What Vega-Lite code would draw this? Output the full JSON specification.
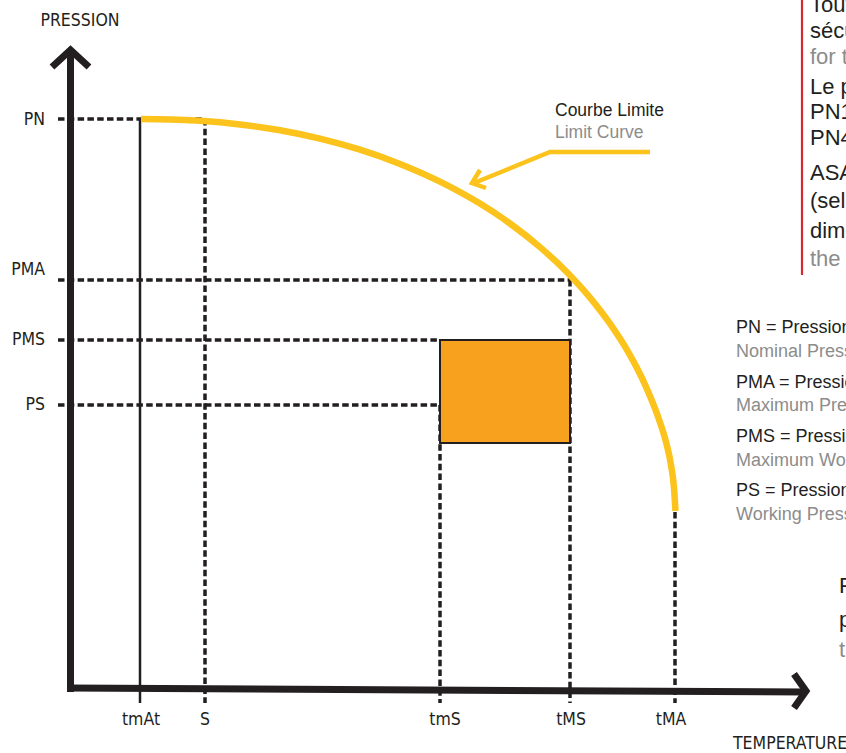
{
  "$schema": "https://vega.github.io/schema/vega-lite/v6.json",
  "width": 846,
  "height": 753,
  "autosize": "none",
  "padding": 0,
  "background": "white",
  "config": {"view": {"stroke": null}},
  "datasets": {
    "paths": [
      {"id": "pn", "kind": "dash", "o": 0, "x": 58, "y": 119},
      {"id": "pn", "kind": "dash", "o": 1, "x": 205, "y": 119},
      {"id": "s", "kind": "dash", "o": 0, "x": 205, "y": 119},
      {"id": "s", "kind": "dash", "o": 1, "x": 205, "y": 703},
      {"id": "pma", "kind": "dash", "o": 0, "x": 58, "y": 280},
      {"id": "pma", "kind": "dash", "o": 1, "x": 570, "y": 280},
      {"id": "tms", "kind": "dash", "o": 0, "x": 570, "y": 280},
      {"id": "tms", "kind": "dash", "o": 1, "x": 570, "y": 703},
      {"id": "pms", "kind": "dash", "o": 0, "x": 58, "y": 340},
      {"id": "pms", "kind": "dash", "o": 1, "x": 440, "y": 340},
      {"id": "ps", "kind": "dash", "o": 0, "x": 58, "y": 405},
      {"id": "ps", "kind": "dash", "o": 1, "x": 440, "y": 405},
      {"id": "tmsmin", "kind": "dash", "o": 0, "x": 440, "y": 405},
      {"id": "tmsmin", "kind": "dash", "o": 1, "x": 440, "y": 703},
      {"id": "tma", "kind": "dash", "o": 0, "x": 675, "y": 512},
      {"id": "tma", "kind": "dash", "o": 1, "x": 675, "y": 703},
      {"id": "tmat", "kind": "thin", "o": 0, "x": 140, "y": 119},
      {"id": "tmat", "kind": "thin", "o": 1, "x": 140, "y": 703},
      {"id": "yaxis", "kind": "axis", "o": 0, "x": 70.5, "y": 692},
      {"id": "yaxis", "kind": "axis", "o": 1, "x": 70.5, "y": 51},
      {"id": "yhead", "kind": "axis", "o": 0, "x": 52, "y": 67},
      {"id": "yhead", "kind": "axis", "o": 1, "x": 70.5, "y": 50},
      {"id": "yhead", "kind": "axis", "o": 2, "x": 89, "y": 67},
      {"id": "xaxis", "kind": "axis", "o": 0, "x": 67, "y": 688},
      {"id": "xaxis", "kind": "axis", "o": 1, "x": 805, "y": 692},
      {"id": "xhead", "kind": "axis", "o": 0, "x": 794, "y": 674},
      {"id": "xhead", "kind": "axis", "o": 1, "x": 806, "y": 691},
      {"id": "xhead", "kind": "axis", "o": 2, "x": 794, "y": 708},
      {"id": "curve", "kind": "curve", "o": 0, "x": 141, "y": 119},
      {"id": "curve", "kind": "curve", "o": 1, "x": 170, "y": 119.4},
      {"id": "curve", "kind": "curve", "o": 2, "x": 200, "y": 120.8},
      {"id": "curve", "kind": "curve", "o": 3, "x": 240, "y": 124.4},
      {"id": "curve", "kind": "curve", "o": 4, "x": 280, "y": 130.2},
      {"id": "curve", "kind": "curve", "o": 5, "x": 320, "y": 138.6},
      {"id": "curve", "kind": "curve", "o": 6, "x": 360, "y": 149.7},
      {"id": "curve", "kind": "curve", "o": 7, "x": 400, "y": 163.9},
      {"id": "curve", "kind": "curve", "o": 8, "x": 440, "y": 181.6},
      {"id": "curve", "kind": "curve", "o": 9, "x": 480, "y": 203.6},
      {"id": "curve", "kind": "curve", "o": 10, "x": 510, "y": 223.5},
      {"id": "curve", "kind": "curve", "o": 11, "x": 540, "y": 247.1},
      {"id": "curve", "kind": "curve", "o": 12, "x": 565, "y": 270.2},
      {"id": "curve", "kind": "curve", "o": 13, "x": 590, "y": 297.6},
      {"id": "curve", "kind": "curve", "o": 14, "x": 610, "y": 323.7},
      {"id": "curve", "kind": "curve", "o": 15, "x": 630, "y": 355.2},
      {"id": "curve", "kind": "curve", "o": 16, "x": 645, "y": 384.6},
      {"id": "curve", "kind": "curve", "o": 17, "x": 658, "y": 416.6},
      {"id": "curve", "kind": "curve", "o": 18, "x": 666, "y": 442},
      {"id": "curve", "kind": "curve", "o": 19, "x": 671, "y": 465},
      {"id": "curve", "kind": "curve", "o": 20, "x": 674, "y": 488},
      {"id": "curve", "kind": "curve", "o": 21, "x": 675.5, "y": 511},
      {"id": "pointer", "kind": "pointer", "o": 0, "x": 650, "y": 152},
      {"id": "pointer", "kind": "pointer", "o": 1, "x": 550, "y": 152},
      {"id": "pointer", "kind": "pointer", "o": 2, "x": 474, "y": 183},
      {"id": "phead", "kind": "pointer", "o": 0, "x": 480, "y": 170},
      {"id": "phead", "kind": "pointer", "o": 1, "x": 472, "y": 183},
      {"id": "phead", "kind": "pointer", "o": 2, "x": 486, "y": 188},
      {"id": "red", "kind": "red", "o": 0, "x": 802, "y": 0},
      {"id": "red", "kind": "red", "o": 1, "x": 802, "y": 275}
    ],
    "boxes": [
      {"name": "zone de service", "x": 440, "x2": 570, "y": 340, "y2": 443}
    ],
    "texts": [
      {"g": "ylab", "t": "PN", "x": 45, "y": 120, "lang": "fr"},
      {"g": "ylab", "t": "PMA", "x": 45, "y": 270, "lang": "fr"},
      {"g": "ylab", "t": "PMS", "x": 45, "y": 340, "lang": "fr"},
      {"g": "ylab", "t": "PS", "x": 45, "y": 405, "lang": "fr"},
      {"g": "xlab", "t": "PRESSION", "x": 80, "y": 21, "lang": "fr"},
      {"g": "xlab", "t": "tmAt", "x": 141, "y": 720, "lang": "fr"},
      {"g": "xlab", "t": "S", "x": 205, "y": 720, "lang": "fr"},
      {"g": "xlab", "t": "tmS", "x": 445, "y": 720, "lang": "fr"},
      {"g": "xlab", "t": "tMS", "x": 571, "y": 720, "lang": "fr"},
      {"g": "xlab", "t": "tMA", "x": 671, "y": 720, "lang": "fr"},
      {"g": "temp", "t": "TEMPERATURE", "x": 733, "y": 744, "lang": "fr"},
      {"g": "courbe", "t": "Courbe Limite", "x": 555, "y": 111, "lang": "fr"},
      {"g": "courbe", "t": "Limit Curve", "x": 555, "y": 133, "lang": "en"},
      {"g": "note", "t": "Toutes les vannes", "x": 810, "y": 5, "lang": "fr"},
      {"g": "note", "t": "sécurité", "x": 810, "y": 31, "lang": "fr"},
      {"g": "note", "t": "for the", "x": 810, "y": 57, "lang": "en"},
      {"g": "note", "t": "Le produit", "x": 810, "y": 87, "lang": "fr"},
      {"g": "note", "t": "PN16", "x": 810, "y": 112, "lang": "fr"},
      {"g": "note", "t": "PN40", "x": 810, "y": 138, "lang": "fr"},
      {"g": "note", "t": "ASA150", "x": 810, "y": 173, "lang": "fr"},
      {"g": "note", "t": "(selon", "x": 810, "y": 201, "lang": "fr"},
      {"g": "note", "t": "dimension", "x": 810, "y": 231, "lang": "fr"},
      {"g": "note", "t": "the", "x": 810, "y": 259, "lang": "en"},
      {"g": "leg", "t": "PN = Pression Nominale", "x": 736, "y": 328, "lang": "fr"},
      {"g": "leg", "t": "Nominal Pressure", "x": 736, "y": 352, "lang": "en"},
      {"g": "leg", "t": "PMA = Pression Maximale Admissible", "x": 736, "y": 383, "lang": "fr"},
      {"g": "leg", "t": "Maximum Pressure Allowed", "x": 736, "y": 406, "lang": "en"},
      {"g": "leg", "t": "PMS = Pression Maximale de Service", "x": 736, "y": 437, "lang": "fr"},
      {"g": "leg", "t": "Maximum Working Pressure", "x": 736, "y": 461, "lang": "en"},
      {"g": "leg", "t": "PS = Pression de Service", "x": 736, "y": 491, "lang": "fr"},
      {"g": "leg", "t": "Working Pressure", "x": 736, "y": 515, "lang": "en"},
      {"g": "big", "t": "Pour", "x": 839, "y": 586, "lang": "fr"},
      {"g": "big", "t": "pression", "x": 839, "y": 620, "lang": "fr"},
      {"g": "big", "t": "the", "x": 839, "y": 650, "lang": "en"}
    ]
  },
  "encoding": {
    "x": {"field": "x", "type": "quantitative", "scale": {"domain": [0, 846], "nice": false, "zero": false}, "axis": null},
    "y": {"field": "y", "type": "quantitative", "scale": {"domain": [0, 753], "nice": false, "zero": false, "reverse": true}, "axis": null}
  },
  "layer": [
    {
      "data": {"name": "paths"},
      "transform": [{"filter": "datum.kind === 'dash'"}],
      "mark": {"type": "line", "color": "#231F20", "strokeWidth": 3.5, "strokeDash": [6.5, 3.3], "strokeCap": "butt"},
      "encoding": {"detail": {"field": "id"}, "order": {"field": "o", "type": "quantitative"}}
    },
    {
      "data": {"name": "boxes"},
      "mark": {"type": "rect", "fill": "#F7A11F", "stroke": "#231F20", "strokeWidth": 2},
      "encoding": {
        "x2": {"field": "x2"},
        "y2": {"field": "y2"}
      }
    },
    {
      "data": {"name": "paths"},
      "transform": [{"filter": "datum.kind === 'thin'"}],
      "mark": {"type": "line", "color": "#231F20", "strokeWidth": 2.5, "strokeCap": "butt"},
      "encoding": {"detail": {"field": "id"}, "order": {"field": "o", "type": "quantitative"}}
    },
    {
      "data": {"name": "paths"},
      "transform": [{"filter": "datum.kind === 'axis'"}],
      "mark": {"type": "line", "color": "#231F20", "strokeWidth": 7, "strokeCap": "butt", "strokeJoin": "miter"},
      "encoding": {"detail": {"field": "id"}, "order": {"field": "o", "type": "quantitative"}}
    },
    {
      "data": {"name": "paths"},
      "transform": [{"filter": "datum.kind === 'curve'"}],
      "mark": {"type": "line", "color": "#FBC31C", "strokeWidth": 6.5, "strokeCap": "butt", "interpolate": "monotone"},
      "encoding": {"detail": {"field": "id"}, "order": {"field": "o", "type": "quantitative"}}
    },
    {
      "data": {"name": "paths"},
      "transform": [{"filter": "datum.kind === 'pointer'"}],
      "mark": {"type": "line", "color": "#FBC31C", "strokeWidth": 4.5, "strokeCap": "butt", "strokeJoin": "miter"},
      "encoding": {"detail": {"field": "id"}, "order": {"field": "o", "type": "quantitative"}}
    },
    {
      "data": {"name": "paths"},
      "transform": [{"filter": "datum.kind === 'red'"}],
      "mark": {"type": "line", "color": "#D7282F", "strokeWidth": 2.2, "strokeCap": "butt"},
      "encoding": {"detail": {"field": "id"}, "order": {"field": "o", "type": "quantitative"}}
    },
    {
      "data": {"name": "texts"},
      "transform": [{"filter": "datum.g === 'ylab'"}],
      "mark": {"type": "text", "align": "right", "baseline": "middle", "font": "Liberation Sans Narrow, DejaVu Sans Condensed, sans-serif", "fontSize": 17.5, "color": "#231F20"},
      "encoding": {"text": {"field": "t"}}
    },
    {
      "data": {"name": "texts"},
      "transform": [{"filter": "datum.g === 'xlab'"}],
      "mark": {"type": "text", "align": "center", "baseline": "middle", "font": "Liberation Sans Narrow, DejaVu Sans Condensed, sans-serif", "fontSize": 17.5, "color": "#231F20"},
      "encoding": {"text": {"field": "t"}}
    },
    {
      "data": {"name": "texts"},
      "transform": [{"filter": "datum.g === 'temp'"}],
      "mark": {"type": "text", "align": "left", "baseline": "middle", "font": "Liberation Sans Narrow, DejaVu Sans Condensed, sans-serif", "fontSize": 17.5, "color": "#231F20"},
      "encoding": {"text": {"field": "t"}}
    },
    {
      "data": {"name": "texts"},
      "transform": [{"filter": "datum.g === 'courbe'"}],
      "mark": {"type": "text", "align": "left", "baseline": "middle", "font": "Liberation Sans, Arial, sans-serif", "fontSize": 17.5},
      "encoding": {"text": {"field": "t"}, "color": {"field": "lang", "type": "nominal", "scale": {"domain": ["fr", "en"], "range": ["#231F20", "#8C8C8C"]}, "legend": null}}
    },
    {
      "data": {"name": "texts"},
      "transform": [{"filter": "datum.g === 'note'"}],
      "mark": {"type": "text", "align": "left", "baseline": "middle", "font": "Liberation Sans, Arial, sans-serif", "fontSize": 22},
      "encoding": {"text": {"field": "t"}, "color": {"field": "lang", "type": "nominal", "scale": {"domain": ["fr", "en"], "range": ["#231F20", "#8C8C8C"]}, "legend": null}}
    },
    {
      "data": {"name": "texts"},
      "transform": [{"filter": "datum.g === 'leg'"}],
      "mark": {"type": "text", "align": "left", "baseline": "middle", "font": "Liberation Sans, Arial, sans-serif", "fontSize": 18},
      "encoding": {"text": {"field": "t"}, "color": {"field": "lang", "type": "nominal", "scale": {"domain": ["fr", "en"], "range": ["#231F20", "#8C8C8C"]}, "legend": null}}
    },
    {
      "data": {"name": "texts"},
      "transform": [{"filter": "datum.g === 'big'"}],
      "mark": {"type": "text", "align": "left", "baseline": "middle", "font": "Liberation Sans, Arial, sans-serif", "fontSize": 22},
      "encoding": {"text": {"field": "t"}, "color": {"field": "lang", "type": "nominal", "scale": {"domain": ["fr", "en"], "range": ["#231F20", "#8C8C8C"]}, "legend": null}}
    }
  ]
}
